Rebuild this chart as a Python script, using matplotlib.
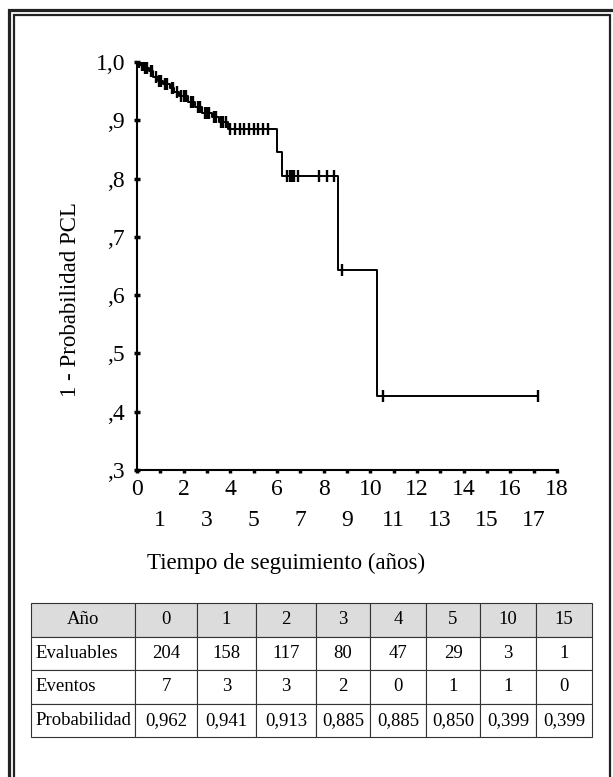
import numpy as np
import matplotlib.pyplot as plt
from matplotlib.patches import Rectangle

plt.rcParams['font.family'] = ['Liberation Serif', 'DejaVu Serif']

# Kaplan-Meier steps: time of event and value after it
event_times = [0.15, 0.3, 0.5, 0.7, 0.9, 1.1, 1.4, 1.6, 1.8, 2.2, 2.5, 2.8,
               3.2, 3.5, 3.9, 6.0, 6.2, 8.6, 10.3]
surv_after = [0.995, 0.99, 0.985, 0.975, 0.968, 0.962, 0.955, 0.948, 0.941,
              0.932, 0.922, 0.913, 0.905, 0.897, 0.885, 0.845, 0.805, 0.643, 0.427]
last_time = 17.2

# censored observations (ticks)
censor_times = [0.1, 0.2, 0.25, 0.35, 0.45, 0.6, 0.65, 0.8, 0.95, 1.05, 1.2, 1.3,
                1.5, 1.55, 1.7, 1.9, 2.0, 2.1, 2.3, 2.4, 2.6, 2.7, 2.9, 3.0, 3.1,
                3.3, 3.4, 3.6, 3.7, 3.8, 4.0, 4.2, 4.4, 4.6, 4.8, 5.0, 5.2, 5.4,
                5.6, 6.45, 6.55, 6.65, 6.75, 6.9, 7.8, 8.15, 8.45, 8.8, 10.55, 17.2]

# table
row_labels = ["Año", "Evaluables", "Eventos", "Probabilidad"]
anios = ["0", "1", "2", "3", "4", "5", "10", "15"]
evaluables = ["204", "158", "117", "80", "47", "29", "3", "1"]
eventos = ["7", "3", "3", "2", "0", "1", "1", "0"]
probabilidad = ["0,962", "0,941", "0,913", "0,885", "0,885", "0,850", "0,399", "0,399"]

W, H = 613, 777
fig = plt.figure(figsize=(W / 100, H / 100), dpi=100)

# double frame (open at right/bottom like the scan)
fig.add_artist(Rectangle((8.5 / W, -0.1), 1.2, 1.1 - 10 / H, transform=fig.transFigure,
                         fill=False, lw=2.3, ec='#222222'))
fig.add_artist(Rectangle((13.5 / W, -0.1), (610 - 13.5) / W, 1.1 - 15 / H,
                         transform=fig.transFigure, fill=False, lw=1.6, ec='#222222'))

ax = fig.add_axes([137 / W, 1 - 470 / H, (558 - 137) / W, (470 - 62) / H])

xs = np.concatenate([[0], event_times, [last_time]])
ys = np.concatenate([[1.0], surv_after, [surv_after[-1]]])
ax.step(xs, ys, where='post', color='black', lw=1.4)

idx = np.searchsorted(event_times, censor_times, side='right')
cy = np.concatenate([[1.0], surv_after])[idx]
ax.plot(censor_times, cy, ls='none', marker='|', ms=9, mew=1.7, color='black')

ax.set_xlim(0, 18.05)
ax.set_ylim(0.3, 1.0)
for s in ['top', 'right']:
    ax.spines[s].set_visible(False)
for s in ['left', 'bottom']:
    ax.spines[s].set_linewidth(1.5)

ax.set_xticks(range(19))
ax.set_xticklabels([str(i) for i in range(19)], fontsize=17)
for i, t in enumerate(ax.xaxis.get_major_ticks()):
    t.set_pad(4 if i % 2 == 0 else 26)
ax.tick_params(axis='x', direction='out', length=2.5, width=2.5)

yt = [0.3, 0.4, 0.5, 0.6, 0.7, 0.8, 0.9, 1.0]
ax.set_yticks(yt)
ax.set_yticklabels([",3", ",4", ",5", ",6", ",7", ",8", ",9", "1,0"], fontsize=17)
ax.tick_params(axis='y', direction='inout', length=5, width=2.5, pad=6)

fig.text(70 / W, 1 - 300 / H, "1 - Probabilidad PCL", rotation=90, fontsize=16.5,
         ha='center', va='center')
fig.text(147 / W, 1 - 563 / H, "Tiempo de seguimiento (años)", fontsize=16.5,
         ha='left', va='center')

# table
tax = fig.add_axes([31 / W, 1 - 737 / H, (592 - 31) / W, (737 - 603) / H])
tax.axis('off')
cells = [[row_labels[0]] + anios, [row_labels[1]] + evaluables,
         [row_labels[2]] + eventos, [row_labels[3]] + probabilidad]
col_w = [104, 62, 59, 60, 54, 56, 54, 56, 56]
col_w = [c / sum(col_w) for c in col_w]
tb = tax.table(cellText=cells, colWidths=col_w, bbox=[0, 0, 1, 1], cellLoc='center')
tb.auto_set_font_size(False)
for (r, c), cell in tb.get_celld().items():
    cell.set_linewidth(0.8)
    cell.set_edgecolor('#333333')
    cell.get_text().set_fontsize(13.5)
    if r == 0:
        cell.set_facecolor('#dcdcdc')
    if c == 0 and r > 0:
        cell.get_text().set_ha('left')
        cell.PAD = 0.04

fig.savefig('out.png', dpi=100)
